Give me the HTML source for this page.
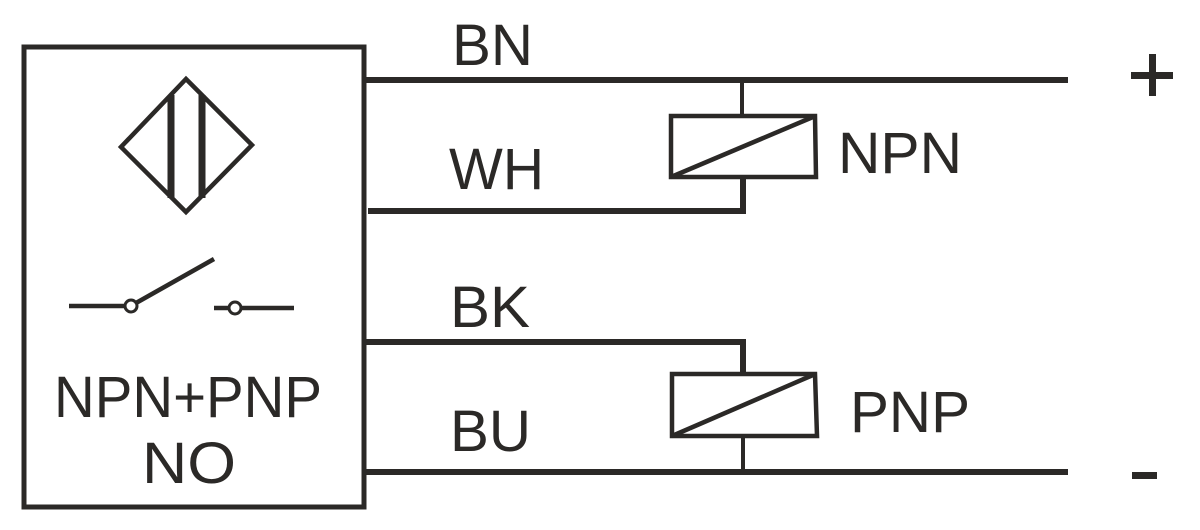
<!DOCTYPE html>
<html><head><meta charset="utf-8"><style>
html,body{margin:0;padding:0;background:#fff;width:1200px;height:530px;overflow:hidden}
text{font-family:"Liberation Sans",sans-serif;fill:#2b2927}
</style></head><body>
<svg width="1200" height="530" viewBox="0 0 1200 530" xmlns="http://www.w3.org/2000/svg">
<g stroke="#2b2927" fill="none">
<rect x="24" y="47" width="340" height="460" stroke-width="5"/>
<polygon points="186,79 252,145 186,212 121,147" stroke-width="4.5"/>
<line x1="171" y1="95" x2="171" y2="198" stroke-width="7"/>
<line x1="202" y1="95" x2="202" y2="198" stroke-width="7"/>
<line x1="69" y1="306" x2="125" y2="306" stroke-width="4.5"/>
<circle cx="131" cy="306" r="6" stroke-width="3" fill="#fff"/>
<line x1="136" y1="303" x2="214" y2="259" stroke-width="4.5"/>
<line x1="214" y1="308" x2="229" y2="308" stroke-width="4.5"/>
<circle cx="235" cy="308" r="6" stroke-width="3" fill="#fff"/>
<line x1="241" y1="308" x2="294" y2="308" stroke-width="4.5"/>
<line x1="364" y1="80" x2="1068" y2="80" stroke-width="6"/>
<polyline points="368,211 743,211 743,177" stroke-width="6"/>
<line x1="742" y1="80" x2="742" y2="116" stroke-width="4"/>
<polygon points="671,116 815,116 816,177 671,177" stroke-width="4.5"/>
<line x1="671" y1="177" x2="813" y2="117" stroke-width="4.5"/>
<polyline points="364,342 743,342 743,373" stroke-width="6"/>
<polygon points="672,374 815,374 817,436 672,436" stroke-width="4.5"/>
<line x1="672" y1="436" x2="813" y2="375" stroke-width="4.5"/>
<line x1="743" y1="436" x2="743" y2="472" stroke-width="4"/>
<line x1="364" y1="472" x2="1068" y2="472" stroke-width="6"/>
</g>
<g fill="#2b2927">
<rect x="1131" y="72" width="42" height="7"/>
<rect x="1149" y="54" width="7" height="42"/>
<rect x="1132" y="472" width="25" height="7"/>
</g>
<g font-size="58">
<text x="452" y="65" textLength="81" lengthAdjust="spacingAndGlyphs">BN</text>
<text x="449" y="189" textLength="95" lengthAdjust="spacingAndGlyphs">WH</text>
<text x="450" y="327" textLength="80" lengthAdjust="spacingAndGlyphs">BK</text>
<text x="450" y="451" textLength="81" lengthAdjust="spacingAndGlyphs">BU</text>
<text x="838" y="173" textLength="124" lengthAdjust="spacingAndGlyphs">NPN</text>
<text x="850" y="432" textLength="120" lengthAdjust="spacingAndGlyphs">PNP</text>
<text x="54" y="417" textLength="268" lengthAdjust="spacingAndGlyphs">NPN+PNP</text>
<text x="142" y="483" textLength="94" lengthAdjust="spacingAndGlyphs">NO</text>
</g>
</svg>
</body></html>
